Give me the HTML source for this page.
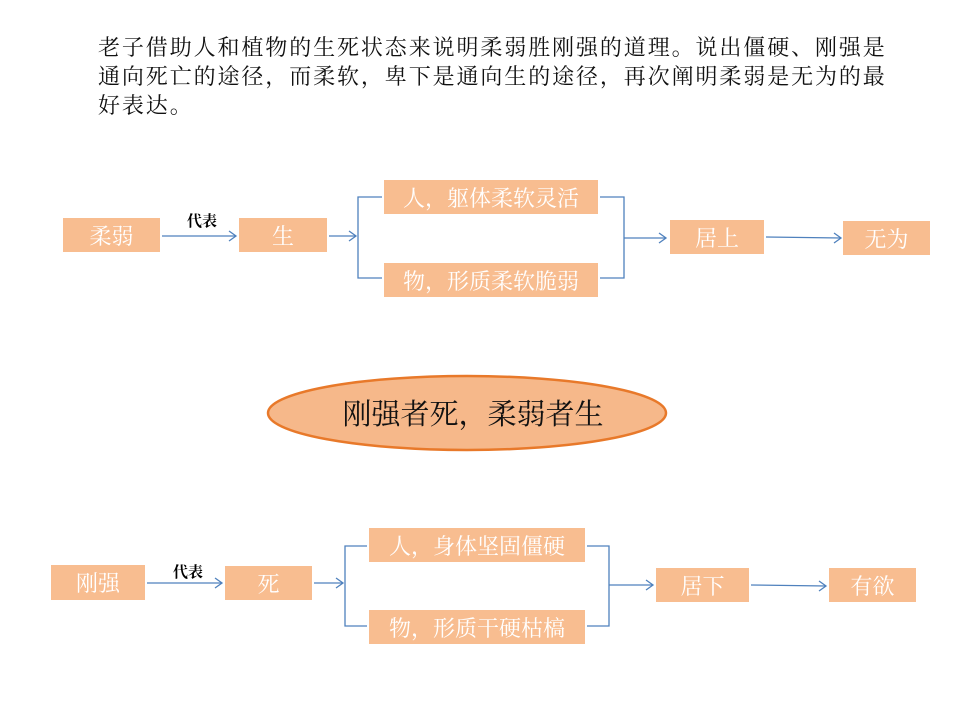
<!DOCTYPE html>
<html><head><meta charset="utf-8"><style>
body{margin:0;width:960px;height:720px;background:#fff;position:relative;overflow:hidden;font-family:"Liberation Serif","Noto Serif CJK SC","Noto Sans CJK SC",serif;}
.t{position:absolute;left:98px;top:33px;width:800px;font-size:22px;letter-spacing:1.9px;line-height:29px;color:#111;}
.b{position:absolute;background:#f8bd90;color:#fff;font-size:22px;display:flex;align-items:center;justify-content:center;}
.l{position:absolute;font-size:15px;font-weight:bold;color:#000;}
svg{position:absolute;left:0;top:0;}
</style></head><body>
<div class="t">老子借助人和植物的生死状态来说明柔弱胜刚强的道理。说出僵硬、刚强是通向死亡的途径，而柔软，卑下是通向生的途径，再次阐明柔弱是无为的最好表达。</div>
<svg width="960" height="720">
<g stroke="#4f81bd" stroke-width="1.3" fill="none">
<line x1="162" y1="236" x2="236" y2="236"/><polyline points="229,231 236,236 229,241"/>
<line x1="329" y1="236" x2="356" y2="236"/><polyline points="349,231 356,236 349,241"/>
<polyline points="382,197 358,197 358,278 382,278"/>
<polyline points="600,197 624,197 624,278 600,278"/>
<line x1="624" y1="238" x2="666" y2="238"/><polyline points="659,233 666,238 659,243"/>
<line x1="766" y1="237" x2="841" y2="238"/><polyline points="834,233 841,238 834,243"/>
<line x1="147" y1="583" x2="222" y2="583"/><polyline points="215,578 222,583 215,588"/>
<line x1="314" y1="583" x2="343" y2="583"/><polyline points="336,578 343,583 336,588"/>
<polyline points="367,546 345,546 345,626 367,626"/>
<polyline points="587,546 609,546 609,626 587,626"/>
<line x1="609" y1="585" x2="653" y2="585"/><polyline points="646,580 653,585 646,590"/>
<line x1="751" y1="585" x2="826" y2="586"/><polyline points="819,581 826,586 819,591"/>
</g>
<ellipse cx="467" cy="413" rx="199" ry="37" fill="#f6b88a" stroke="#e8792a" stroke-width="2.5"/>
<text x="473" y="424" text-anchor="middle" font-size="29" fill="#111" font-family="Liberation Serif,Noto Serif CJK SC,serif">刚强者死，柔弱者生</text>
</svg>
<div class="l" style="left:187px;top:210px">代表</div>
<div class="l" style="left:173px;top:561px">代表</div>
<div class="b" style="left:63px;top:218px;width:97px;height:34px">柔弱</div>
<div class="b" style="left:239px;top:218px;width:88px;height:34px">生</div>
<div class="b" style="left:384px;top:180px;width:214px;height:34px">人，躯体柔软灵活</div>
<div class="b" style="left:384px;top:263px;width:214px;height:34px">物，形质柔软脆弱</div>
<div class="b" style="left:670px;top:220px;width:94px;height:34px">居上</div>
<div class="b" style="left:843px;top:221px;width:87px;height:34px">无为</div>
<div class="b" style="left:51px;top:565px;width:94px;height:35px">刚强</div>
<div class="b" style="left:225px;top:566px;width:87px;height:34px">死</div>
<div class="b" style="left:369px;top:528px;width:216px;height:34px">人，身体坚固僵硬</div>
<div class="b" style="left:369px;top:610px;width:216px;height:34px">物，形质干硬枯槁</div>
<div class="b" style="left:656px;top:568px;width:93px;height:34px">居下</div>
<div class="b" style="left:829px;top:568px;width:87px;height:34px">有欲</div>
</body></html>
